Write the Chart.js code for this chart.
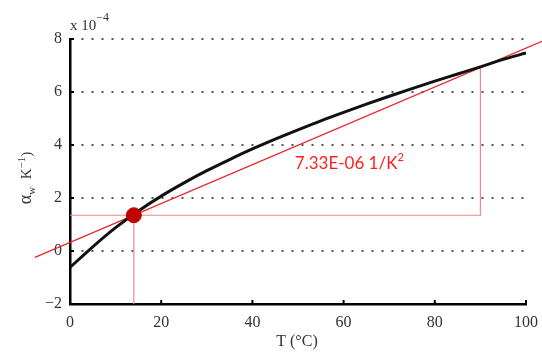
<!DOCTYPE html>
<html>
<head>
<meta charset="utf-8">
<script src="https://cdn.jsdelivr.net/npm/chart.js@4/dist/chart.umd.min.js"></script>
<style>
    html, body { margin: 0; padding: 0; background: #fff; }
    #wrap { width: 542px; height: 353px; }
</style>
</head>
<body>
<div id="wrap"><canvas id="myChart" width="542" height="353"></canvas></div>
<script>
// duong cong alpha_w (x 10^-4) theo nhiet do
const nhietDo = [0, 5, 10, 15, 20, 25, 30, 35, 40, 45, 50, 55, 60, 65, 70, 75, 80, 85, 90, 95, 100];
const alphaW = [-0.62, 0.16, 0.88, 1.51, 2.07, 2.57, 3.03, 3.45, 3.85, 4.22, 4.57, 4.91, 5.23, 5.54, 5.84, 6.13, 6.41, 6.68, 6.95, 7.23, 7.47];

// duong cat tuyen (do doc 7.33E-06 1/K^2)
const catTuyenX = [-7.7, 103.5];
const catTuyenY = [-0.24, 7.91];

// diem do va cac duong gióng
const diemX = [14];
const diemY = [1.35];
const giongDungX = [14, 14];
const giongDungY = [-2, 1.35];
const giongNgangX = [0, 90, 90];
const giongNgangY = [1.35, 1.35, 6.92];

const xTicks = [0, 20, 40, 60, 80, 100];
const yTicks = [-2, 0, 2, 4, 6, 8];
const nhanDoDoc = '7.33E-06 1/K';

function toPts(xs, ys) {
    return xs.map((x, i) => ({x: x, y: ys[i]}));
}

// ve chu co chi so tren/duoi
function veChu(ctx, parts, x, y) {
    let cx = x;
    parts.forEach(p => {
        ctx.font = p.font;
        ctx.fillText(p.t, cx, y + (p.dy || 0));
        cx += ctx.measureText(p.t).width;
    });
    return cx - x;
}
function doRong(ctx, parts) {
    let w = 0;
    parts.forEach(p => { ctx.font = p.font; w += ctx.measureText(p.t).width; });
    return w;
}

const serif = 'Liberation Serif';

const extraPlugin = {
    id: 'extra',
    afterDraw(chart) {
        const ctx = chart.ctx;
        const xs = chart.scales.x, ys = chart.scales.y;
        const area = chart.chartArea;
        ctx.save();
        // vach chia huong vao trong
        ctx.strokeStyle = '#000';
        ctx.lineWidth = 2;
        xTicks.forEach(v => {
            const px = xs.getPixelForValue(v);
            ctx.beginPath();
            ctx.moveTo(px, area.bottom);
            ctx.lineTo(px, area.bottom - 4);
            ctx.stroke();
        });
        yTicks.forEach(v => {
            const py = ys.getPixelForValue(v);
            ctx.beginPath();
            ctx.moveTo(area.left, py);
            ctx.lineTo(area.left + 4, py);
            ctx.stroke();
        });

        // nhan do doc
        ctx.fillStyle = '#ff1f1f';
        ctx.textBaseline = 'middle';
        ctx.textAlign = 'left';
        veChu(ctx, [
            {t: nhanDoDoc, font: '17px Lato'},
            {t: '2', font: '11px Lato', dy: -6}
        ], xs.getPixelForValue(49.3), ys.getPixelForValue(3.3));

        // x 10^-4
        ctx.fillStyle = '#333';
        ctx.textBaseline = 'alphabetic';
        veChu(ctx, [
            {t: 'x 10', font: '15px "' + serif + '"'},
            {t: '\u22124', font: '12px "' + serif + '"', dy: -9}
        ], area.left, 30);

        // tieu de truc y
        const yParts = [
            {t: '\u03b1', font: '18px "' + serif + '"'},
            {t: 'w', font: '11px "' + serif + '"', dy: 4},
            {t: '  K', font: '15px "' + serif + '"'},
            {t: '\u22121', font: '11px "' + serif + '"', dy: -6},
            {t: ')', font: '15px "' + serif + '"'}
        ];
        ctx.translate(31, 178);
        ctx.rotate(-Math.PI / 2);
        ctx.textBaseline = 'alphabetic';
        veChu(ctx, yParts, -doRong(ctx, yParts) / 2, 0);
        ctx.restore();

        // tieu de truc x
        ctx.save();
        ctx.fillStyle = '#333';
        ctx.font = '16px "' + serif + '"';
        ctx.textAlign = 'center';
        ctx.textBaseline = 'middle';
        ctx.fillText('T (\u00b0C)', 297, 342);
        ctx.restore();
    }
};

const ctx = document.getElementById('myChart').getContext('2d');
const myChart = new Chart(ctx, {
    type: 'scatter',
    data: {
        datasets: [
            {
                data: toPts(diemX, diemY),
                backgroundColor: '#c00000',
                borderColor: '#c00000',
                pointRadius: 7.5,
                order: 0
            },
            {
                data: toPts(nhietDo, alphaW),
                showLine: true,
                borderColor: '#111',
                borderWidth: 3,
                pointRadius: 0,
                cubicInterpolationMode: 'monotone',
                order: 1
            },
            {
                data: toPts(catTuyenX, catTuyenY),
                showLine: true,
                borderColor: '#e8262b',
                borderWidth: 1.2,
                pointRadius: 0,
                clip: false,
                order: 2
            },
            {
                data: toPts(giongDungX, giongDungY),
                showLine: true,
                borderColor: '#ee8a8a',
                borderWidth: 1.2,
                pointRadius: 0,
                order: 3
            },
            {
                data: toPts(giongNgangX, giongNgangY),
                showLine: true,
                borderColor: '#ee8a8a',
                borderWidth: 1.2,
                pointRadius: 0,
                order: 3
            }
        ]
    },
    options: {
        responsive: false,
        animation: false,
        events: [],
        layout: { padding: { top: 39, right: 16, left: 0, bottom: 0 } },
        plugins: { legend: { display: false }, tooltip: { enabled: false } },
        scales: {
            x: {
                type: 'linear',
                min: 0,
                max: 100,
                afterBuildTicks: s => { s.ticks = xTicks.map(v => ({value: v})); },
                afterFit: s => { s.height = 49; s.paddingRight = 0; },
                grid: { display: false, drawTicks: false },
                border: { display: true, color: '#000', width: 2.5 },
                ticks: {
                    padding: 9,
                    color: '#333',
                    font: { family: serif, size: 16 },
                    maxRotation: 0
                }
            },
            y: {
                type: 'linear',
                min: -2,
                max: 8,
                afterBuildTicks: s => { s.ticks = yTicks.map(v => ({value: v})); },
                afterFit: s => { s.width = 70; },
                grid: {
                    drawTicks: false,
                    lineWidth: 2,
                    color: c => (c.tick && c.tick.value === -2) ? 'rgba(0,0,0,0)' : '#555'
                },
                border: { display: true, color: '#000', width: 2.5, dash: [2, 8], dashOffset: 0 },
                ticks: {
                    padding: 8,
                    color: '#333',
                    font: { family: serif, size: 16 },
                    callback: v => v < 0 ? '\u2212' + Math.abs(v) : String(v)
                }
            }
        }
    },
    plugins: [extraPlugin]
});
</script>
</body>
</html>
